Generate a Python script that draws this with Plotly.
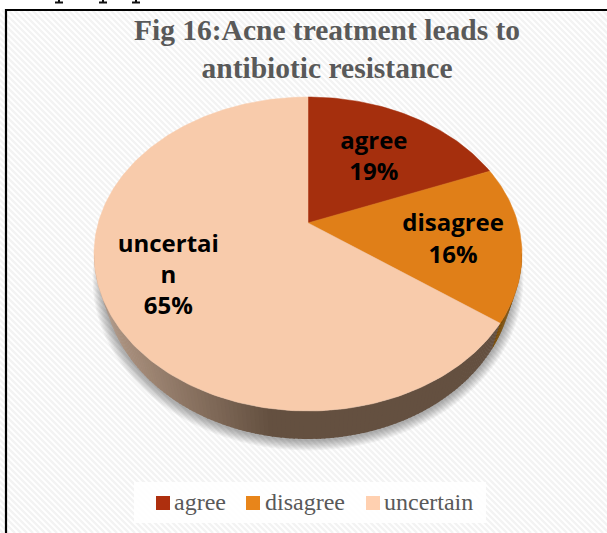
import math
import plotly.graph_objects as go

categories = ["agree", "disagree", "uncertain"]
percent_values = [19, 16, 65]
label_lines = ["agree", "disagree", "uncertai<br>n"]
slice_colors = ["#A52F0D", "#E07F18", "#F8CBAB"]
legend_colors = ["#AE2F0E", "#E8851A", "#FFD0B0"]
wall_colors = [(122, 40, 10), (122, 74, 0), (100, 80, 64)]
title_text = "Fig 16:Acne treatment leads to<br>antibiotic resistance"

W, H = 607, 533
CX, CY, RX, RY = 308.0, 254.0, 214.0, 157.0
BOTTOM_CY, BOTTOM_RX, BOTTOM_RY = 278.0, 205.0, 161.0
TILT = 0.818  # perspective factor


def ellipse_param(theta):
    """True pie angle (clockwise from 12 o'clock, deg) -> ellipse parameter (rad)."""
    k = theta % 360
    if abs(k - 180) < 1e-9:
        return math.pi
    t = 2 * math.atan(TILT * math.tan(math.radians(k) / 2))
    return t if t >= 0 else t + 2 * math.pi


def edge(theta):
    t = ellipse_param(theta)
    return CX + RX * math.sin(t), CY - RY * math.cos(t)


def lower_edge(theta, grow=0.0):
    t = ellipse_param(theta)
    return CX + (BOTTOM_RX + grow) * math.sin(t), BOTTOM_CY - (BOTTOM_RY + grow) * math.cos(t)


APEX = (CX, CY - RY * math.cos(2 * math.atan(TILT)))

fig = go.Figure()

# soft shadow under the disc
for i in range(8, 0, -1):
    xs, ys = [], []
    for a in range(0, 361, 3):
        x, y = lower_edge(a, i * 1.3)
        xs.append(x)
        ys.append(y + 1)
    fig.add_trace(go.Scatter(x=xs, y=ys, mode="none", fill="toself",
                             fillcolor="rgba(0,0,0,0.045)", showlegend=False, hoverinfo="skip"))

# slice boundaries from the values
total = sum(percent_values)
bounds = [0.0]
for v in percent_values:
    bounds.append(bounds[-1] + v / total * 360)


def wall_rgb(i, x):
    base = wall_colors[i]
    if i != 2:
        return base
    f = max(0.0, min(1.0, (270 - x) / 170))
    return tuple(int(b + (l - b) * f) for b, l in zip(base, (178, 152, 133)))


# side wall, drawn as thin strips so it shades from light to dark
for i in range(len(categories)):
    a0, a1 = bounds[i], bounds[i + 1]
    n = max(2, int((a1 - a0) / 1.0))
    for j in range(n):
        s0 = a0 + (a1 - a0) * j / n
        s1 = a0 + (a1 - a0) * (j + 1) / n + 0.3
        x0, y0 = edge(s0)
        x1, y1 = edge(s1)
        bx0, by0 = lower_edge(s0)
        bx1, by1 = lower_edge(s1)
        if by0 < BOTTOM_CY and by1 < BOTTOM_CY:
            continue
        r, g, b = wall_rgb(i, (x0 + x1) / 2)
        fig.add_trace(go.Scatter(x=[x0, x1, bx1, bx0, x0], y=[y0, y1, by1, by0, y0],
                                 mode="none", fill="toself", fillcolor=f"rgb({r},{g},{b})",
                                 showlegend=False, hoverinfo="skip"))

# top face
for i, cat in enumerate(categories):
    a0, a1 = bounds[i], bounds[i + 1]
    n = max(2, int(a1 - a0))
    pts = [edge(a0 + (a1 - a0) * j / n) for j in range(n + 1)]
    xs = [APEX[0]] + [p[0] for p in pts] + [APEX[0]]
    ys = [APEX[1]] + [p[1] for p in pts] + [APEX[1]]
    fig.add_trace(go.Scatter(x=xs, y=ys, mode="lines", fill="toself", name=cat,
                             line=dict(color=slice_colors[i], width=0.5),
                             fillcolor=slice_colors[i], showlegend=False,
                             text=f"{cat}: {percent_values[i]}%", hoverinfo="text"))

# data labels
lx, ly, lt = [], [], []
LABEL_FRACTION = [0.65, 0.68, 0.68]
LABEL_SHIFT = [5, 5, 3]
for i in range(len(categories)):
    ex, ey = edge((bounds[i] + bounds[i + 1]) / 2)
    lx.append(APEX[0] + LABEL_FRACTION[i] * (ex - APEX[0]))
    ly.append(APEX[1] + LABEL_FRACTION[i] * (ey - APEX[1]) + LABEL_SHIFT[i])
    lt.append(f"{label_lines[i]}<br>{percent_values[i]}%")
fig.add_trace(go.Scatter(x=lx, y=ly, mode="text", text=lt, textposition="middle center",
                         textfont=dict(family="Open Sans", size=24, color="#000000", weight="bold"),
                         showlegend=False, hoverinfo="skip"))

# page dressing: faint hatch, frame, legend plate, clipped line above the frame
hatch = "".join(f"M{x},10L{x + 523},533" for x in range(-520, 610, 6))
shapes = [
    dict(type="path", path=hatch, line=dict(color="#F3F3F3", width=2.4), layer="below",
         xref="x", yref="y"),
    dict(type="rect", x0=134, x1=486, y0=482, y1=523, fillcolor="rgba(255,255,255,0.85)",
         line=dict(width=0), layer="below", xref="x", yref="y"),
    dict(type="path", path="M6,533L6,10L607,10", line=dict(color="#000000", width=2.2),
         layer="below", xref="x", yref="y"),
]
for sx in (59, 103, 136):
    shapes.append(dict(type="path", path=f"M{sx - 4},2.5L{sx + 4},2.5M{sx},0L{sx},2.5",
                       line=dict(color="#111111", width=2), xref="x", yref="y"))

# legend row: swatch directly against its label, as in the reference
swatch_left = [156, 246, 366]
text_left = [173, 264, 383]
annotations = []
for i, cat in enumerate(categories):
    shapes.append(dict(type="rect", x0=swatch_left[i], x1=swatch_left[i] + 14, y0=496, y1=510,
                       fillcolor=legend_colors[i], line=dict(width=0), xref="x", yref="y"))
    annotations.append(dict(x=text_left[i], y=502, xref="x", yref="y", text=cat, showarrow=False,
                            xanchor="left", yanchor="middle", xshift=-1,
                            font=dict(family="Liberation Serif", size=24, color="#595959")))

fig.update_layout(
    width=W, height=H, margin=dict(l=0, r=0, t=0, b=0), autosize=False,
    paper_bgcolor="#FFFFFF", plot_bgcolor="rgba(0,0,0,0)",
    xaxis=dict(range=[0, W], visible=False, fixedrange=True),
    yaxis=dict(range=[H, 0], visible=False, fixedrange=True),
    shapes=shapes, annotations=annotations,
    title=dict(text=title_text, x=327 / W, xanchor="center", y=1 - 40 / H, yanchor="middle",
               font=dict(family="Liberation Serif", size=29.5, color="#595959", weight="bold")),
    showlegend=False,
)

fig.write_html("out.html", post_script="document.body.style.margin='0';",
               config={"displayModeBar": False})
